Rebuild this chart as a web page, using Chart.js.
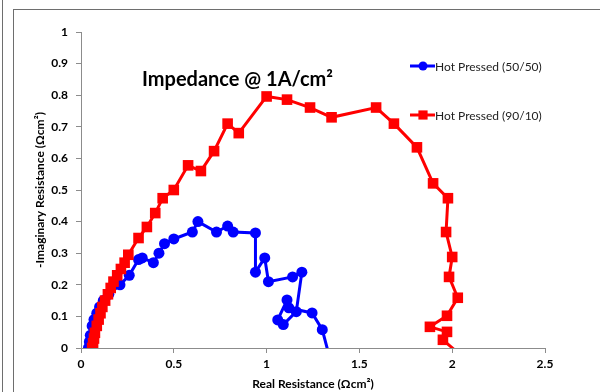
<!DOCTYPE html>
<html>
<head>
<meta charset="utf-8">
<script src="https://cdn.jsdelivr.net/npm/chart.js@4"></script>
<style>
  html, body { margin: 0; padding: 0; background: #fff; }
  #wrap { position: relative; width: 600px; height: 392px; overflow: hidden; }
  #frame { position: absolute; left: 13px; top: 9px; width: 600px; height: 400px;
    border-left: 1px solid #6e6e6e; border-top: 1px solid #6e6e6e; pointer-events: none; }
  #edge { position: absolute; left: 2px; top: 0; width: 0; height: 392px;
    border-left: 1px solid #6e6e6e; pointer-events: none; }
</style>
</head>
<body>
<div id="wrap">
  <canvas id="myChart" width="600" height="392"></canvas>
  <div id="frame"></div>
  <div id="edge"></div>
</div>
<script>
// Hot Pressed (50/50)
const blueX = [0.04, 0.045, 0.05, 0.06, 0.07, 0.085, 0.10, 0.12, 0.15, 0.21, 0.26, 0.31, 0.33, 0.39, 0.42, 0.45, 0.50, 0.60, 0.63, 0.73, 0.79, 0.82, 0.94, 0.94, 0.99, 1.01, 1.14, 1.19, 1.16, 1.09, 1.06, 1.11, 1.12, 1.245, 1.30, 1.335]
const blueY = [0, 0.02, 0.04, 0.07, 0.09, 0.11, 0.13, 0.15, 0.17, 0.20, 0.23, 0.28, 0.285, 0.27, 0.30, 0.33, 0.345, 0.367, 0.40, 0.367, 0.386, 0.367, 0.364, 0.24, 0.285, 0.21, 0.225, 0.24, 0.115, 0.074, 0.089, 0.152, 0.127, 0.111, 0.058, -0.02]

// Hot Pressed (90/10)
const redX = [0.06, 0.065, 0.07, 0.075, 0.085, 0.095, 0.105, 0.115, 0.13, 0.145, 0.16, 0.175, 0.195, 0.215, 0.235, 0.255, 0.31, 0.355, 0.40, 0.44, 0.50, 0.577, 0.646, 0.717, 0.79, 0.85, 1.0, 1.11, 1.234, 1.35, 1.59, 1.686, 1.81, 1.897, 1.977, 1.967, 2.0, 1.983, 2.03, 1.972, 1.88, 1.972, 1.95, 2.04]
const redY = [0, 0.015, 0.03, 0.048, 0.07, 0.09, 0.11, 0.13, 0.15, 0.17, 0.19, 0.21, 0.23, 0.25, 0.27, 0.295, 0.348, 0.383, 0.427, 0.474, 0.50, 0.578, 0.56, 0.623, 0.71, 0.68, 0.796, 0.786, 0.761, 0.73, 0.761, 0.71, 0.635, 0.521, 0.474, 0.367, 0.288, 0.225, 0.159, 0.102, 0.067, 0.051, 0.026, -0.02]

const seriesNames = ['Hot Pressed (50/50)', 'Hot Pressed (90/10)']
const xTicks = [0, 0.5, 1, 1.5, 2, 2.5]
const yTicks = [0, 0.1, 0.2, 0.3, 0.4, 0.5, 0.6, 0.7, 0.8, 0.9, 1]

const BLUE = '#0000ff'
const RED = '#ff0000'
const AXIS = '#8c8c8c'
const FONT = 'Lato, "DejaVu Sans", sans-serif'

const toPoints = (xs, ys) => xs.map((x, i) => ({ x: x, y: ys[i] }))

// title + legend drawn inside the plot area, like the excel chart
const overlay = {
  id: 'overlay',
  afterDraw(chart) {
    const ctx = chart.ctx
    ctx.save()
    ctx.fillStyle = '#000'
    ctx.font = 'bold 20px ' + FONT
    ctx.textAlign = 'left'
    ctx.textBaseline = 'middle'
    ctx.fillText('Impedance @ 1A/cm²', 142, 80)

    const rows = [
      { y: 66, color: BLUE, style: 'circle', r: 4.5 },
      { y: 115, color: RED, style: 'rect', r: 6.5 }
    ]
    rows.forEach((row, i) => {
      ctx.strokeStyle = row.color
      ctx.lineWidth = 3
      ctx.beginPath()
      ctx.moveTo(410, row.y)
      ctx.lineTo(435, row.y)
      ctx.stroke()
      ctx.fillStyle = row.color
      Chart.helpers.drawPoint(ctx, { pointStyle: row.style, radius: row.r, borderWidth: 0 }, 423, row.y)
      ctx.fillStyle = '#222'
      ctx.font = '12px ' + FONT
      ctx.fillText(seriesNames[i], 435, row.y + 1)
    })
    ctx.restore()
  }
}

const ctx = document.getElementById('myChart').getContext('2d')

const myChart = new Chart(ctx, {
  type: 'scatter',
  data: {
    datasets: [
      {
        label: seriesNames[0],
        data: toPoints(blueX, blueY),
        showLine: true,
        borderColor: BLUE,
        backgroundColor: BLUE,
        borderWidth: 3,
        pointStyle: 'circle',
        pointRadius: 5.5,
        pointBorderWidth: 0,
        tension: 0,
        clip: 0,
        order: 1
      },
      {
        label: seriesNames[1],
        data: toPoints(redX, redY),
        showLine: true,
        borderColor: RED,
        backgroundColor: RED,
        borderWidth: 3,
        pointStyle: 'rect',
        pointRadius: 7.5,
        pointBorderWidth: 0,
        tension: 0,
        clip: 0,
        order: 0
      }
    ]
  },
  options: {
    responsive: false,
    animation: false,
    devicePixelRatio: 1,
    layout: { padding: { left: 0, top: 32, right: 55, bottom: 0 } },
    plugins: {
      legend: { display: false },
      tooltip: { enabled: false },
      title: { display: false }
    },
    scales: {
      x: {
        type: 'linear',
        min: 0,
        max: 2.5,
        afterFit: (scale) => { scale.height = 44 },
        afterBuildTicks: (scale) => { scale.ticks = xTicks.map(v => ({ value: v })) },
        grid: { drawOnChartArea: false, drawTicks: true, tickLength: 5, color: AXIS },
        border: { display: true, color: AXIS, width: 1 },
        ticks: {
          color: '#000',
          padding: 4,
          font: { family: FONT, size: 12, weight: 'bold' },
          callback: (v) => String(v)
        },
        title: {
          display: true,
          text: 'Real Resistance (Ωcm²)',
          color: '#000',
          font: { family: FONT, size: 12, weight: 'bold' },
          padding: { top: 0, bottom: 1 }
        }
      },
      y: {
        type: 'linear',
        min: 0,
        max: 1,
        afterFit: (scale) => { scale.width = 81 },
        afterBuildTicks: (scale) => { scale.ticks = yTicks.map(v => ({ value: v })) },
        grid: { drawOnChartArea: false, drawTicks: true, tickLength: 5, color: AXIS },
        border: { display: true, color: AXIS, width: 1 },
        ticks: {
          color: '#000',
          padding: 8,
          font: { family: FONT, size: 12, weight: 'bold' },
          callback: (v) => String(v)
        },
        title: {
          display: true,
          text: '-Imaginary Resistance (Ωcm²)',
          color: '#000',
          font: { family: FONT, size: 12, weight: 'bold' },
          padding: { top: 33, bottom: 0 }
        }
      }
    }
  },
  plugins: [overlay]
})
</script>
</body>
</html>
